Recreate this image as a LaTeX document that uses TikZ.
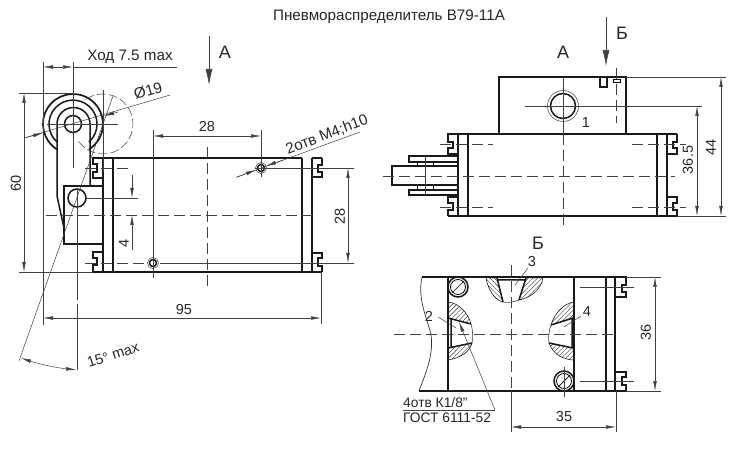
\documentclass[tikz,border=0pt]{standalone}
\usepackage{fontspec}
\setmainfont{Liberation Sans}
\usetikzlibrary{arrows,positioning,calc,arrows.meta,patterns.meta}
\tikzset{>={Latex[length=10pt,width=3.6pt]}}
\tikzset{bold/.style={line width=1.5pt,black!90}}
\tikzset{thinline/.style={line width=.5pt,black!75}}
\tikzset{dimline/.style={thinline,<->}}
\tikzset{axisline/.style={thinline,dash pattern=on 11pt off 5pt}}
\tikzset{lbl/.style={font=\fontsize{14.5}{16}\selectfont,text=black!85,inner sep=0pt}}
\tikzset{widelbl/.style={font=\fontsize{15.2}{17}\selectfont,text=black!85,inner sep=0pt}}
\tikzset{notelbl/.style={font=\fontsize{13.8}{15}\selectfont,text=black!85,inner sep=0pt,anchor=west}}
\tikzset{biglbl/.style={font=\fontsize{18}{20}\selectfont,text=black!85,inner sep=0pt}}
\tikzset{viewarrow/.style={line width=.6pt,black!75,-{Latex[length=16pt,width=7pt]}}}
\tikzset{hatched/.style={line width=.5pt,pattern={Lines[angle=#1,distance=3.2pt,line width=.4pt]},pattern color=black!80}}
\begin{document}
\begin{tikzpicture}[x=1pt,y=-1pt]
            \useasboundingbox (0,0) rectangle (742,449);
            \node[widelbl] (title) at (389,17) {Пневмораспределитель В79-11А};
            % side view
            \begin{scope}
                \draw [bold] (93,158) -- (302,158) (93,272) -- (322,272) (312,158) -- (322,158);
                \draw [bold] (103,158) -- (103,272) (113,158) -- (113,272) (302,158) -- (302,272) (312,158) -- (312,272);
                \draw [bold] (103,158) -- (93,158) -- (93,164) -- (97,164) -- (97,172) -- (93,172) -- (93,178) -- (103,178);
                \draw [bold] (103,252) -- (93,252) -- (93,258) -- (97,258) -- (97,265) -- (93,265) -- (93,272);
                \draw [bold] (312,177) -- (322,177) -- (322,172) -- (318,172) -- (318,165) -- (322,165) -- (322,158);
                \draw [bold] (312,253) -- (322,253) -- (322,258) -- (318,258) -- (318,266) -- (322,266) -- (322,272);
                % lever
                \draw [bold,line width=1.7pt] (57,149.4) arc (237.8:-57.8:30pt);
                \draw [bold] (57,142) arc (228.2:-48.2:24pt);
                \draw [bold] (57,186) -- (57,124) arc (180:0:16.5pt) -- (90,186);
                \draw [bold] (57,186) -- (57,196) -- (64,228);
                \draw [bold] (64,186) rectangle (103,244);
                \draw [bold] (73,124) circle (8.5pt) (77,198) circle (9pt);
                \draw [thinline] (47,124) -- (118,124) (73,62) -- (73,168) (77,189) -- (77,300) (77,304) -- (77,370);
                \draw [thinline] (86,198) -- (138,198);
                \draw [thinline] (19,361) -- (113,96);
                \draw [thinline,dash pattern=on 9pt off 3pt] (85.8,99.4) arc (125:-150:30pt);
                \draw [thinline] (103,90) -- (103,172);
                % holes
                \draw [bold] (261,168) circle (3.5pt) (153,263) circle (3.5pt);
                \draw [thinline] (261,168) circle (5.5pt) (153,263) circle (5.5pt);
                \draw [axisline] (46,215) -- (315,215);
                \draw [axisline] (207,147) -- (207,288);
                \draw [axisline] (85,168) -- (130,168);
                \draw [axisline] (85,263) -- (145,263);
                \draw [thinline] (255,168) -- (354,168) (160,263) -- (354,263);
                \draw [thinline] (261,130) -- (261,177) (153,130) -- (153,278);
                % dimensions
                \draw [thinline] (43,62) -- (43,325) (321,272) -- (321,324);
                \draw [thinline] (19,93) -- (73,93) (19,272) -- (93,272);
                \draw [thinline,<->] (43,67) -- (73,67);
                \draw [thinline] (73,67) -- (177,67);
                \node [widelbl] (stroke) at (130,57) {Ход 7.5 max};
                \draw [dimline] (24,93) -- (24,272);
                \node [lbl,rotate=90] (h60) at (16,183) {60};
                \draw [dimline] (153,136) -- (261,136);
                \node [lbl] (w28) at (207,127) {28};
                \draw [dimline] (43,318) -- (321,318);
                \node [lbl] (w95) at (184,310) {95};
                \draw [dimline] (348,168) -- (348,263);
                \node [lbl,rotate=90] (h28) at (340,216) {28};
                \draw [thinline,->] (132,175) -- (132,198);
                \draw [thinline,->] (132,250) -- (132,215);
                \node [lbl,rotate=90] (h4) at (124,243) {4};
                \draw [thinline] (24,138) -- (170,95);
                \draw [thinline,->] (24,138) -- (43,133);
                \draw [thinline,->] (118,112) -- (104,116);
                \node [widelbl,rotate=16] (dia) at (148,91) {Ø19};
                \draw [thinline,<->] (21,358) arc (251.3:264.6:243pt);
                \node [lbl,rotate=18] (angle) at (113,355) {15° max};
                \draw [thinline] (237,177) -- (360,132);
                \draw [thinline,->] (236,177.5) -- (256,170);
                \draw [thinline,->] (283,160) -- (266,166);
                \node [widelbl,rotate=21] (holes) at (327,135) {2отв М4;h10};
                \draw [viewarrow] (209,36) -- (209,85);
                \node [biglbl] (viewA) at (225,52) {А};
            \end{scope}
            % view A
            \begin{scope}
                \node [biglbl] (A) at (563,52) {А};
                \draw [viewarrow] (606,17) -- (606,66);
                \node [biglbl] (B) at (622,33) {Б};
                \draw [bold] (448,134) -- (667,134) (448,216) -- (677,216) (667,134) -- (677,134);
                \draw [bold] (499,134) -- (499,77) -- (626,77) -- (626,134);
                \draw [bold] (458,134) -- (458,216) (468,134) -- (468,216) (657,134) -- (657,216) (667,134) -- (667,216);
                \draw [bold] (458,134) -- (448,134) -- (448,142) -- (453,142) -- (453,148) -- (448,148) -- (448,154) -- (458,154);
                \draw [bold] (458,197) -- (448,197) -- (448,203) -- (453,203) -- (453,210) -- (448,210) -- (448,216);
                \draw [bold] (667,154) -- (677,154) -- (677,148) -- (673,148) -- (673,142) -- (677,142) -- (677,134);
                \draw [bold] (667,197) -- (677,197) -- (677,203) -- (673,203) -- (673,210) -- (677,210) -- (677,216);
                \draw [bold] (600,77) -- (600,87) -- (607,87) -- (607,77);
                \draw [line width=.9pt] (613,82) rectangle (620,79);
                % pin
                \draw [bold] (458,156) -- (409,156) -- (409,162) -- (458,162);
                \draw [bold] (458,190) -- (409,190) -- (409,195) -- (458,195);
                \draw [bold] (458,166) -- (392,166) -- (392,185) -- (458,185);
                \draw [line width=.9pt] (417,162) -- (417,166) (433,162) -- (433,166) (417,185) -- (417,190) (433,185) -- (433,190);
                \draw [thinline] (425,156) -- (425,195);
                % port 1
                \draw [bold] (563,106) circle (12.5pt);
                \draw [thinline] (563,106) circle (15.5pt);
                \draw [thinline] (525,106) -- (702,106);
                \draw [thinline] (563,77) -- (563,134);
                \draw [axisline] (563,134) -- (563,228);
                \draw [axisline] (616,68) -- (616,123);
                \draw [axisline] (383,176) -- (675,176);
                \draw [axisline] (440,144) -- (493,144) (632,144) -- (686,144);
                \draw [axisline] (440,207) -- (493,207) (632,207) -- (686,207);
                \node [lbl] (port1) at (586,123) {1};
                % dimensions
                \draw [thinline] (626,77) -- (726,77) (677,216) -- (726,216);
                \draw [dimline] (697,106) -- (697,216);
                \node [lbl,rotate=90] (h365) at (688,160) {36.5};
                \draw [dimline] (721,77) -- (721,216);
                \node [lbl,rotate=90] (h44) at (711,147) {44};
            \end{scope}
            % view B
            \begin{scope}
                \node [biglbl] (C) at (538,243) {Б};
                % hatching
                \draw [hatched=135] (486,278) .. controls (488,290) and (495,300) .. (503,302) -- (497,278) -- cycle;
                \draw [hatched=45] (543,278) .. controls (541,290) and (530,298) .. (519,300) -- (526,278) -- cycle;
                \draw [hatched=45] (448,302) .. controls (460,303) and (469,315) .. (471,324) -- (448,318) -- cycle;
                \draw [hatched=45] (448,360) .. controls (460,358) and (470,352) .. (472,343) -- (448,348) -- cycle;
                \draw [hatched=45] (574,302) .. controls (565,303) and (555,312) .. (551,325) -- (573,318) -- cycle;
                \draw [hatched=45] (574,360) .. controls (565,360) and (553,355) .. (549,343) -- (573,348) -- cycle;
                \draw [thinline,line width=.6pt] (471,324) .. controls (473,330) and (473,338) .. (472,343);
                \draw [thinline,line width=.6pt] (551,325) .. controls (549,330) and (548,338) .. (549,343);
                \draw [thinline,line width=.6pt] (503,302) .. controls (508,303) and (514,302) .. (519,300);
                % body
                \draw [bold] (422,277) -- (615,277) (419,391) -- (615,391) (615,277) -- (615,391);
                \draw [line width=.7pt,black!80] (422,277) .. controls (417,300) and (428,320) .. (431,335) .. controls (434,355) and (425,375) .. (419,391);
                \draw [bold] (448,277) -- (448,391) (574,277) -- (574,391) (606,277) -- (606,391);
                \draw [bold] (615,277) -- (626,277) -- (626,285) -- (622,285) -- (622,292) -- (626,292) -- (626,297) -- (615,297);
                \draw [bold] (615,372) -- (626,372) -- (626,377) -- (622,377) -- (622,385) -- (626,385) -- (626,391) -- (615,391);
                \draw [bold] (497,280) -- (526,280) (497,278) -- (503,302) (526,278) -- (519,300);
                \draw [bold] (448,318) -- (471,324) (448,348) -- (472,343) (451,319) -- (451,348);
                \draw [bold] (573,318) -- (551,325) (573,348) -- (549,343) (572,319) -- (572,348);
                % screws
                \draw [bold] (458,287) circle (10pt) (564,381) circle (10pt);
                \draw [line width=.8pt] (458,287) circle (7.5pt) (564,381) circle (7.5pt);
                \draw [line width=.7pt] (452,293) -- (464,281) (558,387) -- (570,375);
                \draw [thinline] (564,367) -- (564,397) (580,381) -- (634,381) (580,287) -- (634,287);
                \draw [axisline] (394,334) -- (614,334);
                \draw [axisline] (511,265) -- (511,391);
                % labels
                \node [lbl] (port3) at (532,262) {3};
                \draw [thinline] (528,268) -- (515,285);
                \node [lbl] (port2) at (429,316) {2};
                \draw [thinline] (438,317) -- (456,328);
                \node [lbl] (port4) at (587,312) {4};
                \draw [thinline] (581,316) -- (564,327);
                \draw [thinline,->] (495,410) -- (459,322);
                \draw [thinline] (403,410) -- (495,410);
                \node [notelbl] (thread) at (403,403) {4отв К1/8"};
                \node [notelbl] (gost) at (403,418) {ГОСТ 6111-52};
                % dimensions
                \draw [thinline] (511,391) -- (511,432) (616,391) -- (616,432);
                \draw [dimline] (511,427) -- (616,427);
                \node [lbl] (w35) at (564,417) {35};
                \draw [thinline] (626,277) -- (661,277) (626,391) -- (661,391);
                \draw [dimline] (655,277) -- (655,391);
                \node [lbl,rotate=90] (h36) at (646,332) {36};
            \end{scope}
         \end{tikzpicture}
\end{document}
